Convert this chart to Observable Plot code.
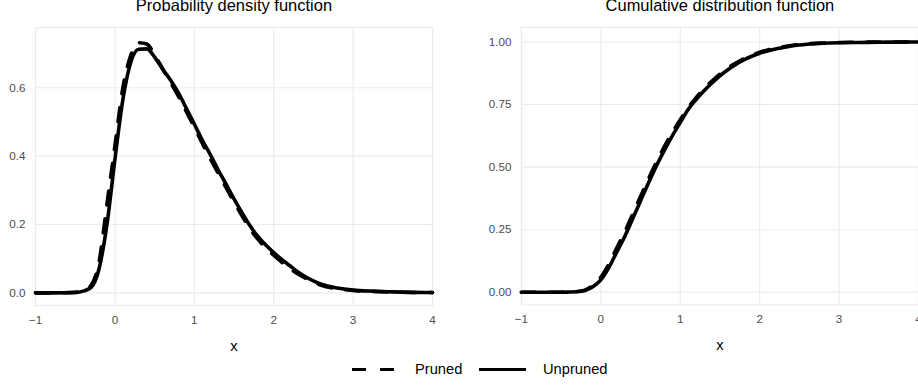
<!DOCTYPE html>
<html>
<head>
<meta charset="utf-8">
<script src="https://cdn.jsdelivr.net/npm/d3@7"></script>
<script src="https://cdn.jsdelivr.net/npm/@observablehq/plot@0.6"></script>
<style>
  html, body { margin: 0; padding: 0; background: #ffffff; }
  body { font-family: "Liberation Sans", Arial, sans-serif; }
  #wrap { position: relative; width: 918px; height: 385px; overflow: hidden; background: #fff; }
  .panel { position: absolute; top: 0; }
  .lg-text { position: absolute; font-size: 14.7px; line-height: 14.7px; color: #000; white-space: nowrap; }
  .lg-key { position: absolute; height: 3.6px; }
</style>
</head>
<body>
<div id="wrap">
  <div id="left" class="panel" style="left:0px"></div>
  <div id="right" class="panel" style="left:459px"></div>
</div>
<script>
// ---- data ----
const xs = [-1, -0.75, -0.5, -0.4, -0.3, -0.2, -0.1, 0, 0.1, 0.2, 0.3, 0.4, 0.5, 0.6, 0.7, 0.8, 0.9, 1.0,
            1.1, 1.2, 1.3, 1.4, 1.5, 1.6, 1.7, 1.8, 1.9, 2.0, 2.1, 2.2, 2.3, 2.4, 2.5, 2.6, 2.8, 3.0, 3.25, 3.5, 3.75, 4.0];

const pdfUnpruned = [0, 0, 0.001, 0.005, 0.016, 0.07, 0.2, 0.39, 0.565, 0.675, 0.713, 0.714, 0.69, 0.655, 0.623, 0.585, 0.54, 0.494,
                     0.447, 0.405, 0.36, 0.318, 0.275, 0.235, 0.197, 0.165, 0.14, 0.118, 0.098, 0.08, 0.062, 0.047, 0.035, 0.025, 0.014, 0.008, 0.005, 0.003, 0.0015, 0.001];
const pdfPruned   = [0, 0, 0.0015, 0.006, 0.022, 0.09, 0.26, 0.43, 0.6, 0.695, 0.732, 0.728, 0.697, 0.656, 0.616, 0.575, 0.53, 0.485,
                     0.438, 0.393, 0.35, 0.308, 0.266, 0.226, 0.188, 0.157, 0.132, 0.11, 0.09, 0.072, 0.056, 0.043, 0.032, 0.022, 0.012, 0.007, 0.004, 0.0025, 0.0012, 0.0008];

const cdfUnpruned = [0, 0, 0.0003, 0.001, 0.002, 0.007, 0.022, 0.05, 0.098, 0.16, 0.222, 0.293, 0.365, 0.437, 0.505, 0.567, 0.625, 0.678,
                     0.73, 0.77, 0.805, 0.836, 0.865, 0.889, 0.91, 0.928, 0.943, 0.955, 0.964, 0.972, 0.978, 0.984, 0.988, 0.991, 0.995, 0.997, 0.998, 0.999, 0.9995, 1.0];
const cdfPruned   = [0, 0, 0.0004, 0.0015, 0.003, 0.009, 0.028, 0.06, 0.112, 0.177, 0.24, 0.311, 0.383, 0.453, 0.52, 0.582, 0.638, 0.689,
                     0.737, 0.778, 0.813, 0.844, 0.872, 0.896, 0.916, 0.933, 0.947, 0.959, 0.968, 0.975, 0.981, 0.986, 0.99, 0.993, 0.996, 0.998, 0.999, 0.9993, 0.9997, 1.0];

const xTicks = [-1, 0, 1, 2, 3, 4];
const pdfTicks = [0, 0.2, 0.4, 0.6];
const cdfTicks = [0, 0.25, 0.5, 0.75, 1];
const series = ["Pruned", "Unpruned"];
const titles = ["Probability density function", "Cumulative distribution function"];
const xLabel = "x";

// ---- build tables ----
function table(pr, un) {
  const rows = [];
  xs.forEach((x, i) => rows.push({x, y: pr[i], s: series[0]}));
  xs.forEach((x, i) => rows.push({x, y: un[i], s: series[1]}));
  return rows;
}
const pdfData = table(pdfPruned, pdfUnpruned);
const cdfData = table(cdfPruned, cdfUnpruned);

const GRID = "#ebebeb";
const TICK = "#4d4d4d";
const LW = 3.6;
const DASH = "14,14";

function panel(data, opts) {
  return Plot.plot({
    width: opts.width,
    height: 355,
    marginLeft: opts.ml,
    marginRight: opts.mr,
    marginTop: 27,
    marginBottom: 50,
    style: {fontFamily: "'Liberation Sans', Arial, sans-serif", background: "transparent", overflow: "visible"},
    x: {domain: [-1, 4]},
    y: {domain: opts.yDomain},
    marks: [
      Plot.frame({stroke: GRID, strokeWidth: 1.1}),
      Plot.gridX(xTicks, {stroke: GRID, strokeOpacity: 1, strokeWidth: 1.1}),
      Plot.gridY(opts.yTicks, {stroke: GRID, strokeOpacity: 1, strokeWidth: 1.1}),
      Plot.axisX({ticks: xTicks, tickSize: 0, tickPadding: 10, fontSize: 11.7, fill: TICK, label: null, tickFormat: d3.format("d")}),
      Plot.axisY({ticks: opts.yTicks, tickSize: 0, tickPadding: 10, fontSize: 11.7, fill: TICK, label: null, tickFormat: d3.format(opts.fmt)}),
      Plot.line(data.filter(d => d.s === series[1]), {x: "x", y: "y", stroke: "black", strokeWidth: LW, curve: "monotone-x"}),
      Plot.line(data.filter(d => d.s === series[0]), {x: "x", y: "y", stroke: "black", strokeWidth: LW, strokeDasharray: DASH, curve: "monotone-x"}),
      Plot.text([opts.title], {frameAnchor: "top", dy: -22, fontSize: 16.5, fill: "black", lineAnchor: "middle"}),
      Plot.text([xLabel], {frameAnchor: "bottom", dy: 40.5, fontSize: 14.7, fill: "black", lineAnchor: "middle"})
    ]
  });
}

document.getElementById("left").append(panel(pdfData, {
  width: 459, ml: 35, mr: 27, yDomain: [-0.037, 0.7765], yTicks: pdfTicks, fmt: ".1f", title: titles[0]
}));
document.getElementById("right").append(panel(cdfData, {
  width: 460, ml: 62, mr: 0, yDomain: [-0.05, 1.058], yTicks: cdfTicks, fmt: ".2f", title: titles[1]
}));

// ---- legend ----
const wrap = document.getElementById("wrap");
function key(left, width, dashed) {
  const k = document.createElement("div");
  k.className = "lg-key";
  k.style.left = left + "px";
  k.style.top = (369.3 - LW / 2) + "px";
  k.style.width = width + "px";
  k.style.background = dashed
    ? "repeating-linear-gradient(to right, #000 0px, #000 14px, transparent 14px, transparent 28px)"
    : "#000";
  wrap.append(k);
}
function label(left, text) {
  const t = document.createElement("div");
  t.className = "lg-text";
  t.style.left = left + "px";
  t.style.top = "361.6px";
  t.textContent = text;
  wrap.append(t);
}
key(352, 42, true);
label(415, series[0]);
key(479, 47, false);
label(543, series[1]);
</script>
</body>
</html>
